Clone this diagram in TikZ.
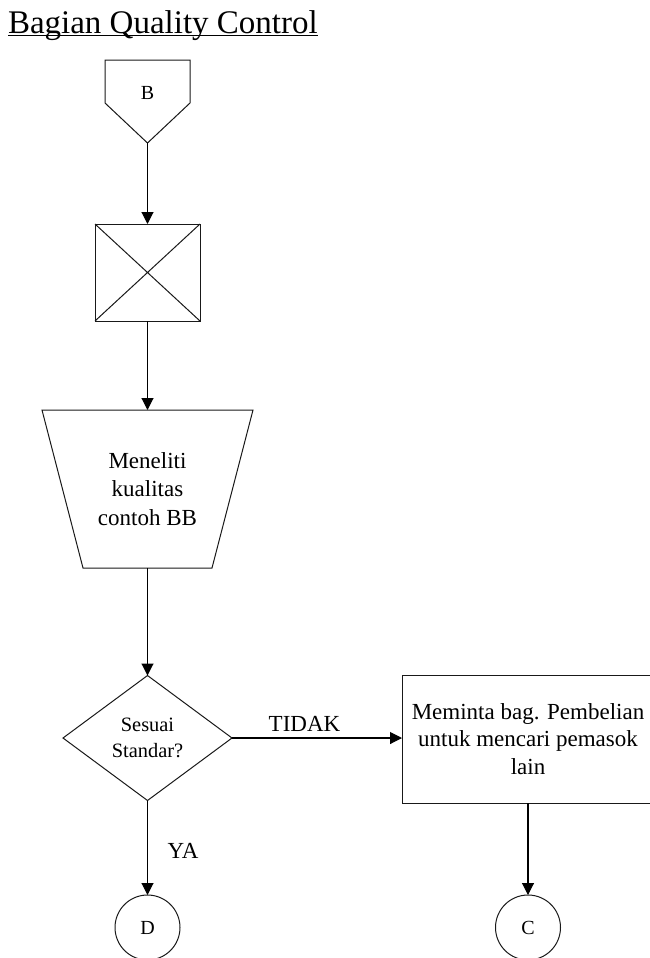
\documentclass[tikz,border=0pt]{standalone}
\usepackage{fontspec}
\setmainfont{Liberation Serif}
\usetikzlibrary{arrows.meta}
\begin{document}
\begin{tikzpicture}[x=0.75pt,y=-0.75pt,
  line/.style={draw=black!90, line width=0.75pt},
  arr/.style={draw=black, line width=0.8pt, -{Triangle[length=9pt,width=9pt]}},
  frame/.style={inner sep=0pt, outer sep=0pt},
  body/.style={align=center, font=\fontsize{17.25}{21.3}\selectfont},
  small/.style={align=center, font=\fontsize{15.3}{19.5}\selectfont},
  letter/.style={font=\fontsize{15}{18}\selectfont},
  label/.style={font=\fontsize{17.25}{20}\selectfont}]
\useasboundingbox (0,0) rectangle (650,958);

% heading
\node[frame, anchor=base west, font=\fontsize{24.75}{30}\selectfont] (title) at (8,33) {Bagian Quality Control};
\draw[line width=1.1pt] ([yshift=-2pt]title.base west) -- ([yshift=-2pt]title.base east);

% off-page connector B
\node[frame, letter] (B) at (147.5,93) {B};
\coordinate (Btip) at (147.5,143);
\draw[line] (Btip) -- (105,103) -- (105,60) -- (190,60) -- (190,103) -- cycle;

% sampling box with cross
\node[line, frame, minimum width=78.75pt, minimum height=72.75pt] (xbox) at (147.5,272.5) {};
\draw[line] (xbox.north west) -- (xbox.south east)
            (xbox.north east) -- (xbox.south west);

% manual operation (trapezium)
\node[frame, body, minimum width=158.25pt, minimum height=118.5pt,
      font=\fontsize{17.25}{21.4}\selectfont] (proc) at (147.5,489) {Meneliti\\kualitas\\contoh BB};
\draw[line] (proc.north west) -- (proc.north east)
  -- ([xshift=-30.75pt]proc.south east) -- ([xshift=30.75pt]proc.south west) -- cycle;

% decision
\node[frame, small, minimum width=126.75pt, minimum height=93.75pt] (dec) at (147.5,738) {Sesuai\\Standar?};
\draw[line] (dec.north) -- (dec.east) -- (dec.south) -- (dec.west) -- cycle;

% request box
\node[line, frame, body, minimum width=189pt, minimum height=96pt,
      font=\fontsize{17.25}{20.6}\selectfont] (req) at (528,739) {Meminta bag. Pembelian\\untuk mencari pemasok\\lain};

% connectors D and C
\node[line, frame, circle, minimum size=48.75pt, letter] (D) at (147.5,927.5) {D};
\node[line, frame, circle, minimum size=48.75pt, letter] (C) at (528,927.5) {C};

% flow
\draw[arr] (Btip) -- (xbox.north);
\draw[arr] (xbox.south) -- (proc.north);
\draw[arr] (proc.south) -- (dec.north);
\draw[arr] (dec.east) -- (dec.east -| req.west);
\node[label, anchor=base] (tidak) at (304.5,731) {TIDAK};
\draw[arr] (dec.south) -- (D.north);
\node[label, anchor=base west] (ya) at (163,858) {YA};
\draw[arr] (req.south) -- (C.north);
\end{tikzpicture}
\end{document}
